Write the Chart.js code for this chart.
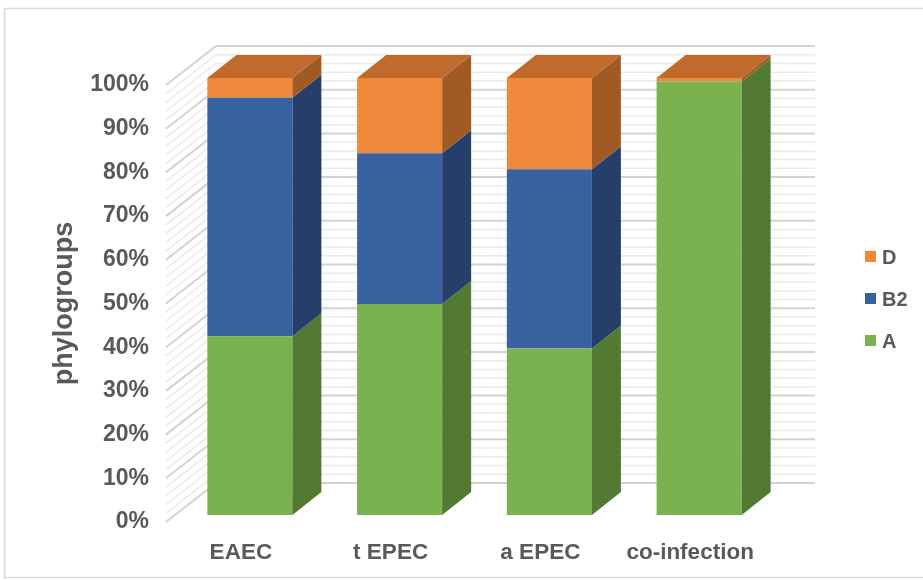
<!DOCTYPE html>
<html><head><meta charset="utf-8">
<script src="https://cdn.jsdelivr.net/npm/chart.js@4/dist/chart.umd.min.js"></script>
<style>html,body{margin:0;padding:0;background:#fff}#wrap{width:923px;height:580px;position:relative}</style>
</head><body><div id="wrap"><canvas id="c" width="923" height="580"></canvas></div>
<script>
// ---- data ----
const categories = ['EAEC', 't EPEC', 'a EPEC', 'co-infection'];
const seriesNames = ['A', 'B2', 'D'];
const valuesA  = [40.9, 48.3, 38.1, 99.2];
const valuesB2 = [54.6, 34.5, 41.0, 0];
const valuesD  = [4.5, 17.2, 20.9, 0.8];
const yTickValues = [0, 10, 20, 30, 40, 50, 60, 70, 80, 90, 100];

// ---- styles ----
const frontColors = ['#7AB24F', '#3861A0', '#EF883B'];
const sideColors  = ['#537A33', '#253F6A', '#A25A24'];
const topColors   = ['#5E8A3B', '#2E4F85', '#C06A2D'];
const TXT = '#595959';
const FONT = "'Liberation Sans', Arial, sans-serif";
const DX = 9, DY = -7;      // bar front offset from axis plane
const BDX = 29, BDY = -23;  // bar depth
const WDX = 50, WDY = -39;  // wall depth

const threeD = {
  id: 'threeD',
  beforeDraw(chart) {
    const ctx = chart.ctx;
    ctx.save();
    ctx.strokeStyle = '#D9D9D9';
    ctx.lineWidth = 1.5;
    ctx.strokeRect(4.5, 8.5, 960, 569);
    ctx.restore();
  },
  beforeDatasetsDraw(chart) {
    const { ctx, chartArea: a, scales: { y } } = chart;
    ctx.save();
    for (let v = 0; v <= 100; v += 2) {
      const py = y.getPixelForValue(v);
      const major = v % 10 === 0;
      ctx.strokeStyle = major ? '#D3D3D3' : '#EAEAEA';
      ctx.lineWidth = major ? 2 : 1.5;
      ctx.beginPath();
      ctx.moveTo(a.left, py);
      ctx.lineTo(a.left + WDX, py + WDY);
      ctx.lineTo(a.right + WDX, py + WDY);
      ctx.stroke();
    }
    ctx.restore();
    ctx.save();
    ctx.translate(DX, DY);
  },
  afterDatasetsDraw(chart) {
    const ctx = chart.ctx;
    ctx.restore();
    ctx.save();
    const n = chart.data.labels.length;
    const topEl = new Array(n).fill(null);
    chart.data.datasets.forEach((ds, di) => {
      const meta = chart.getDatasetMeta(di);
      meta.data.forEach((el, i) => {
        const p = el.getProps(['x', 'y', 'base', 'width'], true);
        const right = p.x + p.width / 2 + DX;
        const top = p.y + DY, bot = p.base + DY;
        if (Math.abs(bot - top) < 0.01) return;
        ctx.fillStyle = sideColors[di];
        ctx.beginPath();
        ctx.moveTo(right, bot);
        ctx.lineTo(right, top);
        ctx.lineTo(right + BDX, top + BDY);
        ctx.lineTo(right + BDX, bot + BDY);
        ctx.closePath();
        ctx.fill();
        topEl[i] = { p, di };
      });
    });
    topEl.forEach(t => {
      if (!t) return;
      const { p, di } = t;
      const left = p.x - p.width / 2 + DX, right = p.x + p.width / 2 + DX;
      const top = p.y + DY;
      ctx.fillStyle = topColors[di];
      ctx.beginPath();
      ctx.moveTo(left, top);
      ctx.lineTo(left + BDX, top + BDY);
      ctx.lineTo(right + BDX, top + BDY);
      ctx.lineTo(right, top);
      ctx.closePath();
      ctx.fill();
    });
    ctx.restore();
  },
  afterDraw(chart) {
    const ctx = chart.ctx;
    ctx.save();
    const ys = [257, 299, 341];
    const dsets = chart.data.datasets.slice().reverse();
    ctx.font = 'bold 20px ' + FONT;
    ctx.textBaseline = 'middle';
    ctx.textAlign = 'left';
    dsets.forEach((ds, k) => {
      ctx.fillStyle = ds.backgroundColor;
      ctx.fillRect(865, ys[k] - 6, 11, 11);
      ctx.fillStyle = TXT;
      ctx.fillText(ds.label, 882, ys[k] + 1);
    });
    ctx.restore();
  }
};

const datasets = [valuesA, valuesB2, valuesD].map((vals, i) => ({
  label: seriesNames[i],
  data: vals,
  backgroundColor: frontColors[i],
  borderWidth: 0,
  categoryPercentage: 1,
  barPercentage: 0.568,
  clip: false
}));

new Chart(document.getElementById('c'), {
  type: 'bar',
  data: { labels: categories, datasets },
  options: {
    responsive: false,
    devicePixelRatio: 1,
    animation: false,
    layout: { padding: { left: 46, top: 85, right: 158, bottom: 0 } },
    plugins: { legend: { display: false }, tooltip: { enabled: false } },
    scales: {
      x: {
        stacked: true,
        grid: { display: false, drawTicks: false },
        border: { display: false },
        ticks: { color: TXT, font: { family: FONT, size: 22.5, weight: 'bold' }, padding: 17, maxRotation: 0 },
        afterFit(s) { s.height = 58; }
      },
      y: {
        stacked: true,
        min: 0, max: 100,
        afterBuildTicks(s) { s.ticks = yTickValues.map(v => ({ value: v })); },
        grid: { display: false, drawTicks: false },
        border: { display: false },
        ticks: { color: TXT, font: { family: FONT, size: 23, weight: 'bold' }, padding: 17, callback: v => v + '%' },
        title: { display: true, text: 'phylogroups', color: TXT, font: { family: FONT, size: 27, weight: 'bold' }, padding: { top: 2, bottom: 2 } },
        afterFit(s) { s.width = 120; }
      }
    }
  },
  plugins: [threeD]
});
</script></body></html>
